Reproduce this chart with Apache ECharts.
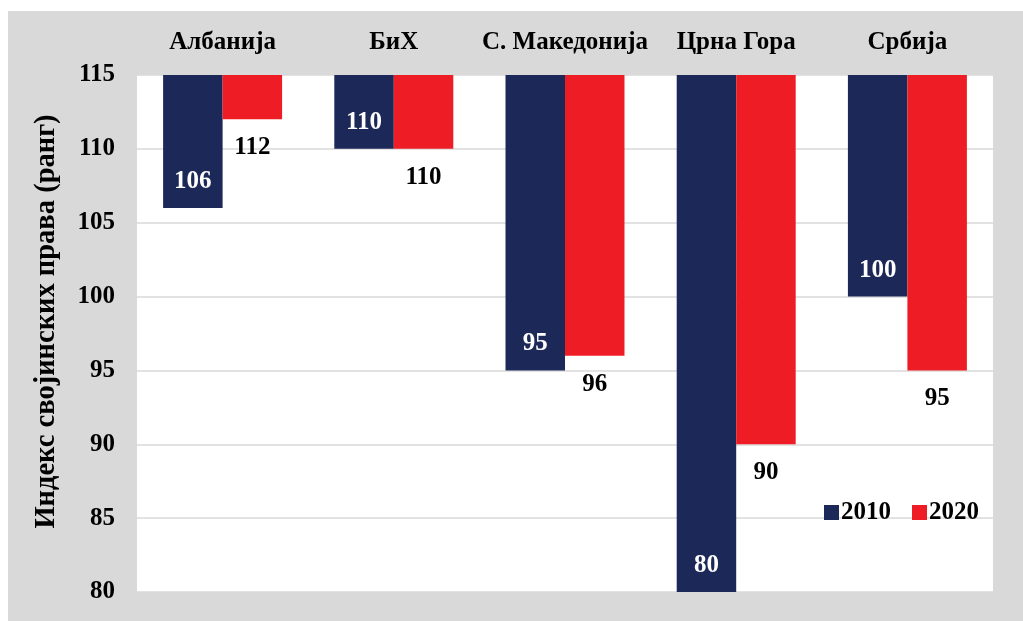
<!DOCTYPE html>
<html><head><meta charset="utf-8">
<script src="https://cdn.jsdelivr.net/npm/echarts@6/dist/echarts.min.js"></script>
<style>html,body{margin:0;padding:0;background:#fff}#c{width:1023px;height:621px}</style>
</head><body><div id="c"></div>
<script>
var categories = ['Албанија', 'БиХ', 'С. Македонија', 'Црна Гора', 'Србија'];
var values2010 = [106, 110, 95, 80, 100];
var values2020 = [112, 110, 96, 90, 95];
var axisMin = 80, axisMax = 115, axisStep = 5;

var FONT = '"Liberation Serif", "Times New Roman", serif';
var NAVY = '#1c2858', RED = '#ee1c24';

function depth(arr) { return arr.map(function (v) { return axisMax - v; }); }

var chart = echarts.init(document.getElementById('c'));
chart.setOption({
  animation: false,
  graphic: [{ type: 'rect', z: -10, shape: { x: 8, y: 11, width: 1015, height: 610 }, style: { fill: '#d9d9d9' } }],
  grid: { left: 137, right: 30, top: 75, bottom: 29, show: true, backgroundColor: '#ffffff', borderWidth: 0 },
  legend: {
    data: ['2010', '2020'], right: 39, top: 495, itemWidth: 15, itemHeight: 15, itemGap: 21,
    icon: 'rect',
    textStyle: { fontFamily: FONT, fontWeight: 'bold', fontSize: 25, color: '#000', padding: [0, 0, 0, -3] }
  },
  xAxis: {
    type: 'category', data: categories, position: 'top',
    axisLine: { show: false }, axisTick: { show: false },
    axisLabel: { interval: 0, fontFamily: FONT, fontWeight: 'bold', fontSize: 25, color: '#000', margin: 20 }
  },
  yAxis: {
    type: 'value', min: axisMin, max: axisMax, interval: axisStep,
    name: 'Индекс својинских права (ранг)', nameLocation: 'middle', nameGap: 76,
    nameTextStyle: { fontFamily: FONT, fontWeight: 'bold', fontSize: 28.5, color: '#000', padding: [0, 0, 0, 24] },
    axisLine: { show: false }, axisTick: { show: false },
    axisLabel: { fontFamily: FONT, fontWeight: 'bold', fontSize: 25, color: '#000', margin: 22 },
    splitLine: { lineStyle: { color: '#d9d9d9', width: 1.5 } }
  },
  series: [
    { name: 'b2010', type: 'bar', stack: 's2010', data: values2010, itemStyle: { color: 'rgba(0,0,0,0)' }, barGap: '0%', barCategoryGap: '30.5%', silent: true },
    { name: '2010', type: 'bar', stack: 's2010', data: depth(values2010), itemStyle: { color: NAVY },
      label: { show: true, position: 'insideBottom', distance: 14, color: '#fff', fontFamily: FONT, fontWeight: 'bold', fontSize: 25,
        formatter: function (p) { return values2010[p.dataIndex]; } } },
    { name: 'b2020', type: 'bar', stack: 's2020', data: values2020, itemStyle: { color: 'rgba(0,0,0,0)' }, silent: true },
    { name: '2020', type: 'bar', stack: 's2020', data: depth(values2020), itemStyle: { color: RED },
      label: { show: true, position: 'bottom', distance: 16, color: '#000', fontFamily: FONT, fontWeight: 'bold', fontSize: 25,
        formatter: function (p) { return values2020[p.dataIndex]; } } }
  ]
});
</script></body></html>
